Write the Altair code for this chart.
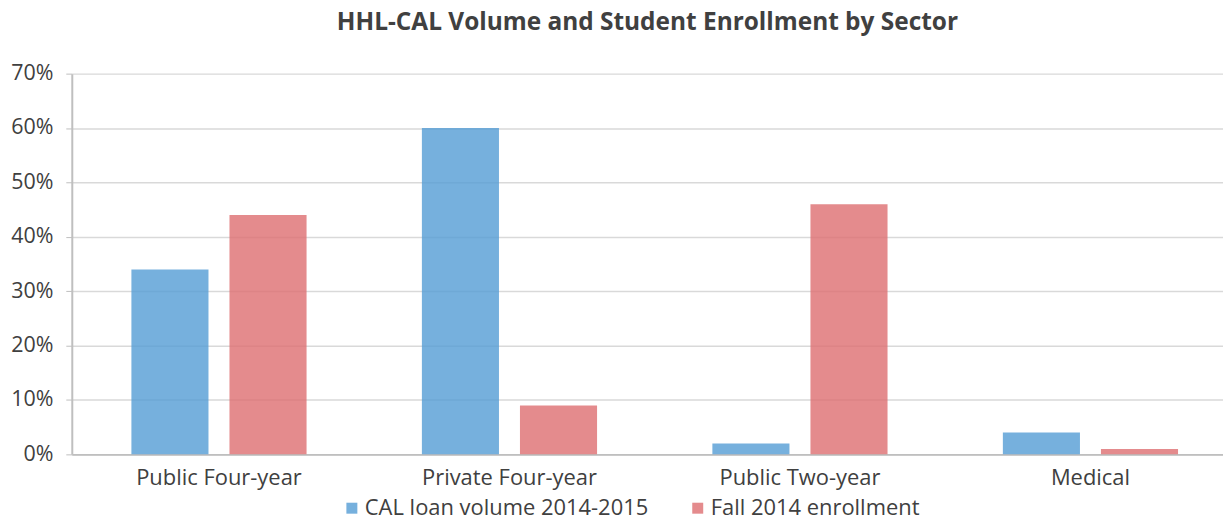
import altair as alt
import pandas as pd

categories = ["Public Four-year", "Private Four-year", "Public Two-year", "Medical"]
series = ["CAL loan volume 2014-2015", "Fall 2014 enrollment"]
cal_volume = [0.34, 0.60, 0.02, 0.04]
enrollment = [0.44, 0.09, 0.46, 0.01]
colors = ["#549CD5", "#DD6E71"]

rows = []
for c, v in zip(categories, cal_volume):
    rows.append({"sector": c, "series": series[0], "value": v})
for c, v in zip(categories, enrollment):
    rows.append({"sector": c, "series": series[1], "value": v})
df = pd.DataFrame(rows)

FONT = "Open Sans"
TXT = "#404040"

chart = alt.Chart(df).mark_bar(opacity=0.8).encode(
    x=alt.X("sector:N", sort=categories, title=None,
            scale=alt.Scale(paddingInner=0.397, paddingOuter=0.18, align=0.57),
            axis=alt.Axis(labelAngle=0, labelFontSize=22, labelColor=TXT, labelFont=FONT,
                          ticks=False, domainColor="#BFBFBF", domainWidth=2, labelPadding=13)),
    xOffset=alt.XOffset("series:N", sort=series,
                        scale=alt.Scale(paddingInner=0.214, paddingOuter=0)),
    y=alt.Y("value:Q", title=None,
            scale=alt.Scale(domain=[0, 0.7], nice=False),
            axis=alt.Axis(format=".0%", values=[0, 0.1, 0.2, 0.3, 0.4, 0.5, 0.6, 0.7],
                          labelFontSize=21.5, labelColor=TXT, labelFont=FONT,
                          gridColor="#D9D9D9", gridWidth=1.5, domainColor="#BFBFBF",
                          domainWidth=2, tickColor="#BFBFBF", tickSize=6, labelPadding=13)),
    color=alt.Color("series:N", sort=series,
                    scale=alt.Scale(domain=series, range=colors),
                    legend=alt.Legend(title=None, orient="none", legendX=270, legendY=425,
                                      direction="horizontal",
                                      labelFontSize=22, labelColor=TXT, labelFont=FONT,
                                      symbolType="square", symbolSize=121, symbolOpacity=0.8,
                                      symbolStrokeWidth=0, columnPadding=38, labelOffset=2,
                                      labelLimit=400)),
).properties(
    width=1155,
    height=382,
    title=alt.TitleParams("HHL-CAL Volume and Student Enrollment by Sector",
                          fontSize=24.5, font=FONT, fontWeight="bold", color=TXT,
                          anchor="middle", offset=27),
    autosize=alt.AutoSizeParams(type="none"),
    padding={"left": 64, "top": 65, "right": 0, "bottom": 66},
).configure_view(stroke=None)

chart.save("out.html", embed_options={"renderer": "svg", "actions": False})
